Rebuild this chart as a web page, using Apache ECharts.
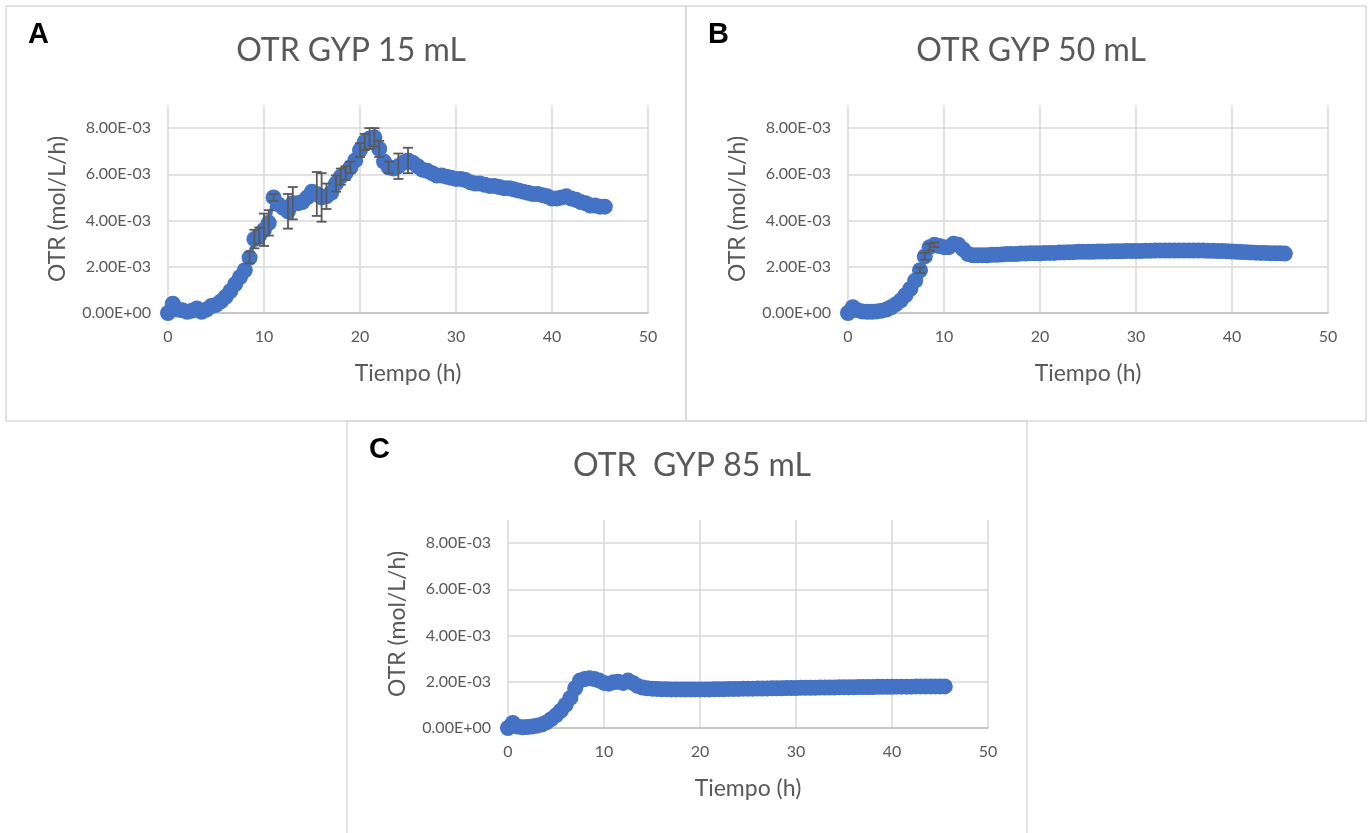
<!DOCTYPE html>
<html>
<head>
<meta charset="utf-8">
<title>OTR GYP</title>
<script src="https://cdn.jsdelivr.net/npm/echarts@6.0.0/dist/echarts.min.js"></script>
<style>
  html, body { margin: 0; padding: 0; background: #fff; }
  #main { width: 1368px; height: 833px; }
</style>
</head>
<body>
<div id="main"></div>
<script>
// tiempo (h), same sampling for the three flasks
const tiempo = [
  0, 0.5, 1, 1.5, 2, 2.5, 3, 3.5, 4, 4.5, 5, 5.5, 6, 6.5, 7, 7.5, 8, 8.5, 9, 9.5,
  10, 10.5, 11, 11.5, 12, 12.5, 13, 13.5, 14, 14.5, 15, 15.5, 16, 16.5, 17, 17.5, 18, 18.5, 19, 19.5,
  20, 20.5, 21, 21.5, 22, 22.5, 23, 23.5, 24, 24.5, 25, 25.5, 26, 26.5, 27, 27.5, 28, 28.5, 29, 29.5,
  30, 30.5, 31, 31.5, 32, 32.5, 33, 33.5, 34, 34.5, 35, 35.5, 36, 36.5, 37, 37.5, 38, 38.5, 39, 39.5,
  40, 40.5, 41, 41.5, 42, 42.5, 43, 43.5, 44, 44.5, 45, 45.5
];

// OTR values in units of 1e-3 mol/L/h
const otr15 = [
  0.00, 0.40, 0.15, 0.12, 0.05, 0.10, 0.20, 0.05, 0.15, 0.30, 0.35, 0.50, 0.70, 0.95, 1.25, 1.55, 1.85, 2.40, 3.20, 3.35,
  3.60, 3.90, 5.00, 4.70, 4.55, 4.40, 4.75, 4.75, 4.80, 5.00, 5.25, 5.15, 5.00, 5.05, 5.20, 5.60, 5.90, 6.05, 6.30, 6.60,
  7.05, 7.40, 7.55, 7.60, 7.10, 6.55, 6.30, 6.25, 6.35, 6.50, 6.60, 6.50, 6.35, 6.20, 6.15, 6.05, 5.95, 5.95, 5.90, 5.85,
  5.80, 5.80, 5.75, 5.65, 5.60, 5.60, 5.55, 5.50, 5.50, 5.45, 5.40, 5.40, 5.35, 5.30, 5.25, 5.20, 5.15, 5.15, 5.10, 5.05,
  4.95, 4.95, 5.00, 5.05, 4.95, 4.90, 4.80, 4.75, 4.65, 4.65, 4.60, 4.60
];
const err15 = [
  0, 0, 0, 0, 0, 0, 0, 0, 0, 0, 0, 0, 0, 0, 0, 0, 0, 0.25, 0.40, 0.35,
  0.70, 0.55, 0.15, 0, 0, 0.75, 0.70, 0, 0, 0, 0, 0.95, 1.05, 0.55, 0, 0.35, 0.35, 0.30, 0.25, 0,
  0.30, 0.35, 0.45, 0.40, 0.35, 0, 0.25, 0, 0.55, 0, 0.55, 0, 0, 0, 0, 0, 0, 0, 0, 0,
  0, 0, 0, 0, 0, 0, 0, 0, 0, 0, 0, 0, 0, 0, 0, 0, 0, 0, 0, 0,
  0, 0, 0, 0, 0, 0, 0, 0, 0, 0, 0, 0
];

const otr50 = [
  0.00, 0.25, 0.12, 0.06, 0.05, 0.05, 0.07, 0.10, 0.15, 0.25, 0.38, 0.55, 0.78, 1.05, 1.40, 1.85, 2.45, 2.85, 2.95, 2.90,
  2.85, 2.85, 3.00, 2.95, 2.75, 2.55, 2.50, 2.50, 2.50, 2.50, 2.52, 2.52, 2.53, 2.55, 2.55, 2.55, 2.57, 2.57, 2.58, 2.58,
  2.58, 2.60, 2.60, 2.60, 2.62, 2.62, 2.63, 2.63, 2.65, 2.65, 2.65, 2.65, 2.66, 2.66, 2.66, 2.67, 2.67, 2.67, 2.68, 2.68,
  2.68, 2.68, 2.69, 2.69, 2.70, 2.70, 2.70, 2.70, 2.70, 2.70, 2.70, 2.70, 2.70, 2.70, 2.70, 2.69, 2.69, 2.68, 2.68, 2.67,
  2.66, 2.65, 2.64, 2.63, 2.62, 2.61, 2.60, 2.60, 2.59, 2.58, 2.58, 2.57
];
const err50 = [
  0, 0, 0, 0, 0, 0, 0, 0, 0, 0, 0, 0, 0, 0, 0, 0.12, 0.15, 0.15, 0.10, 0,
  0, 0, 0, 0, 0, 0, 0, 0, 0, 0, 0, 0, 0, 0, 0, 0, 0, 0, 0, 0,
  0, 0, 0, 0, 0, 0, 0, 0, 0, 0, 0, 0, 0, 0, 0, 0, 0, 0, 0, 0,
  0, 0, 0, 0, 0, 0, 0, 0, 0, 0, 0, 0, 0, 0, 0, 0, 0, 0, 0, 0,
  0, 0, 0, 0, 0, 0, 0, 0, 0, 0, 0, 0
];

const otr85 = [
  0.00, 0.22, 0.06, 0.03, 0.04, 0.06, 0.10, 0.15, 0.24, 0.38, 0.55, 0.75, 1.00, 1.30, 1.72, 2.05, 2.12, 2.15, 2.12, 2.05,
  1.95, 1.92, 1.98, 2.00, 1.95, 2.05, 1.95, 1.82, 1.75, 1.72, 1.70, 1.69, 1.68, 1.68, 1.67, 1.67, 1.67, 1.67, 1.67, 1.67,
  1.67, 1.67, 1.67, 1.68, 1.68, 1.68, 1.69, 1.69, 1.69, 1.70, 1.70, 1.70, 1.71, 1.71, 1.71, 1.72, 1.72, 1.72, 1.73, 1.73,
  1.73, 1.74, 1.74, 1.74, 1.74, 1.75, 1.75, 1.75, 1.75, 1.76, 1.76, 1.76, 1.76, 1.77, 1.77, 1.77, 1.77, 1.78, 1.78, 1.78,
  1.78, 1.79, 1.79, 1.79, 1.79, 1.80, 1.80, 1.80, 1.80, 1.80, 1.80, 1.80
];

const xTicks = [0, 10, 20, 30, 40, 50];
const yTicks = [0, 2, 4, 6, 8];
const titulos = ['OTR GYP 15 mL', 'OTR GYP 50 mL', 'OTR  GYP 85 mL'];
const letras = ['A', 'B', 'C'];

const azul = '#4472C4';
const gris = '#595959';
const fuente = 'Lato, "Open Sans", sans-serif';

// panel frames and plot areas (px)
const paneles = [
  { x: 6, y: 6, w: 680, h: 415, left: 168, top: 105 },
  { x: 686, y: 6, w: 680, h: 415, left: 848, top: 105 },
  { x: 347, y: 421, w: 680, h: 430, left: 508, top: 520 }
];

function fmtExp(v) {
  if (v > yTicks[yTicks.length - 1] + 0.01) return '';
  const s = (v * 1e-3).toExponential(2).toUpperCase();
  return s.replace(/E([+-])(\d)$/, 'E$10$2');
}

const chart = echarts.init(document.getElementById('main'));

const grids = [], xAxes = [], yAxes = [], series = [], titles = [], graphics = [];
const datos = [otr15, otr50, otr85];
const errores = [err15, err50, null];

paneles.forEach((p, k) => {
  graphics.push({
    type: 'rect',
    shape: { x: p.x, y: p.y, width: p.w, height: p.h },
    style: { fill: null, stroke: '#d9d9d9', lineWidth: 1.5 },
    z: -1
  });
  graphics.push({
    type: 'text',
    x: p.x + 22, y: p.y + 29,
    style: {
      text: letras[k],
      font: 'bold 29px "Liberation Sans", Arial, sans-serif',
      fill: '#000',
      verticalAlign: 'middle'
    }
  });
  titles.push({
    text: titulos[k],
    left: p.x + p.w / 2,
    top: p.y + 24,
    textAlign: 'center',
    textStyle: { fontFamily: fuente, fontSize: 32, fontWeight: 'normal', color: gris }
  });

  grids.push({ left: p.left, top: p.top, width: 480, height: 208 });

  xAxes.push({
    type: 'value', gridIndex: k, min: 0, max: 50, interval: 10,
    name: 'Tiempo (h)', nameLocation: 'middle', nameGap: 49,
    nameTextStyle: { fontFamily: fuente, fontSize: 23, color: gris },
    axisLine: { show: true, lineStyle: { color: '#bfbfbf', width: 1.5 } },
    axisTick: { show: false },
    axisLabel: { fontFamily: fuente, fontSize: 16, color: gris, margin: 16 },
    splitLine: { show: true, showMinLine: true, showMaxLine: true, lineStyle: { color: '#d9d9d9', width: 1.5 } }
  });
  yAxes.push({
    type: 'value', gridIndex: k, min: 0, max: 9, interval: 2,
    name: 'OTR (mol/L/h)', nameLocation: 'middle', nameGap: 99,
    nameTextStyle: { fontFamily: fuente, fontSize: 23, color: gris },
    axisLine: { show: false },
    axisTick: { show: false },
    axisLabel: { fontFamily: fuente, fontSize: 16, color: gris, margin: 17, formatter: fmtExp },
    splitLine: { show: true, showMaxLine: false, lineStyle: { color: '#d9d9d9', width: 1.5 } }
  });

  series.push({
    type: 'line', xAxisIndex: k, yAxisIndex: k,
    data: tiempo.map((t, i) => [t, datos[k][i]]),
    symbol: 'circle', symbolSize: 16,
    itemStyle: { color: azul },
    lineStyle: { color: azul, width: 4 },
    silent: true, animation: false, z: 3
  });

  if (errores[k]) {
    const e = errores[k];
    const puntos = [];
    tiempo.forEach((t, i) => { if (e[i] > 0) puntos.push([t, datos[k][i], e[i]]); });
    series.push({
      type: 'custom', xAxisIndex: k, yAxisIndex: k,
      data: puntos,
      renderItem: function (params, api) {
        const t = api.value(0), v = api.value(1), d = api.value(2);
        const hi = api.coord([t, v + d]);
        const lo = api.coord([t, v - d]);
        const cap = 5;
        const st = { stroke: '#595959', lineWidth: 1.8 };
        return {
          type: 'group',
          children: [
            { type: 'line', shape: { x1: hi[0], y1: hi[1], x2: lo[0], y2: lo[1] }, style: st },
            { type: 'line', shape: { x1: hi[0] - cap, y1: hi[1], x2: hi[0] + cap, y2: hi[1] }, style: st },
            { type: 'line', shape: { x1: lo[0] - cap, y1: lo[1], x2: lo[0] + cap, y2: lo[1] }, style: st }
          ]
        };
      },
      silent: true, animation: false, z: 4
    });
  }
});

chart.setOption({
  backgroundColor: '#fff',
  animation: false,
  title: titles,
  grid: grids,
  xAxis: xAxes,
  yAxis: yAxes,
  series: series,
  graphic: graphics
});
</script>
</body>
</html>
